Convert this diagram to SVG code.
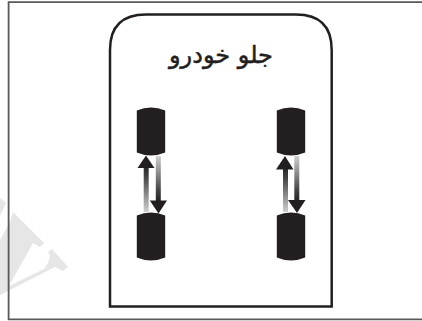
<svg xmlns="http://www.w3.org/2000/svg" width="422" height="321" viewBox="0 0 422 321">
<style>
.wheel{fill:#231f20}
.head{fill:#231f20}
.frame{fill:none;stroke:#58595b;stroke-width:1.8}
.body{fill:#fff;stroke:#231f20;stroke-width:2.5}
.wm{fill:#e6e6e6}
.label{font-family:"DejaVu Sans",sans-serif;font-size:24px;fill:#231f20;stroke:#231f20;stroke-width:0.5;text-anchor:middle}
</style>
<defs>
<linearGradient id="up" x1="0" y1="0" x2="0" y2="1">
<stop offset="0" stop-color="#231f20"/><stop offset="0.25" stop-color="#444"/><stop offset="0.65" stop-color="#8f8f8f"/><stop offset="1" stop-color="#cfcfcf"/>
</linearGradient>
<linearGradient id="down" x1="0" y1="1" x2="0" y2="0">
<stop offset="0" stop-color="#231f20"/><stop offset="0.25" stop-color="#444"/><stop offset="0.65" stop-color="#8f8f8f"/><stop offset="1" stop-color="#cfcfcf"/>
</linearGradient>
<path id="wheelShape" d="M136.8 110.5Q151 104.5 165.2 110.5V152.5Q151 158.5 136.8 152.5Z"/>
</defs>
<rect width="422" height="321" fill="#fff"/>
<g id="watermark">
<polygon class="wm" points="0,198 6,203 0,216"/>
<polygon class="wm" points="13,212 44,243 40,247 33,243 9,286 44,269 48,263 50,255 48,252 52,249 68,267 63,271 55,267 8,291 0,295 0,240 10,222"/>
</g>
<g id="frame"><path class="frame" d="M422 2.2H8.6V319.4H422"/></g>
<g id="car"><path class="body" d="M110 306.5V50Q110 14.5 146 14.5H296Q331.7 14.5 331.7 50V306.5Z"/></g>
<g id="title"><text class="label" x="221" y="63" direction="rtl">جلو خودرو</text></g>
<g id="wheel-front-left"><use href="#wheelShape" class="wheel"/></g>
<g id="wheel-rear-left"><use href="#wheelShape" class="wheel" y="105"/></g>
<g id="wheel-front-right"><use href="#wheelShape" class="wheel" x="140"/></g>
<g id="wheel-rear-right"><use href="#wheelShape" class="wheel" x="140" y="105"/></g>
<g id="connectors">
<rect x="143.7" y="165" width="5" height="47" fill="url(#up)"/>
<polygon class="head" points="146,155.5 154.5,168 137.5,168"/>
<rect x="155.8" y="156" width="5" height="46" fill="url(#down)"/>
<polygon class="head" points="158.5,213.5 149.8,200.5 167,200.5"/>
<rect x="283" y="167" width="5" height="45" fill="url(#up)"/>
<polygon class="head" points="285,156 293.5,169.5 276,169.5"/>
<rect x="294.3" y="156" width="5" height="46" fill="url(#down)"/>
<polygon class="head" points="297,213 288,200 305.5,200"/>
</g>
</svg>
